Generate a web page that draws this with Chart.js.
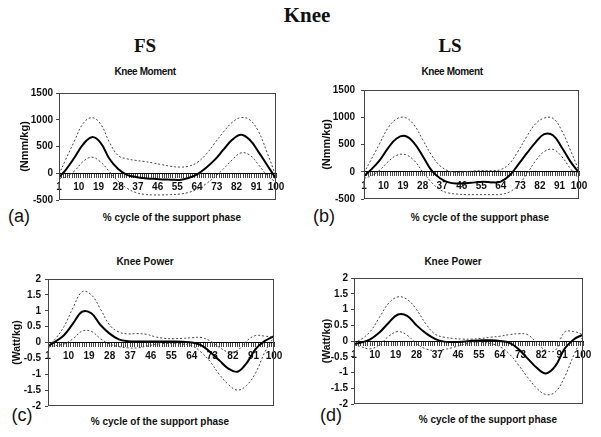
<!DOCTYPE html>
<html><head><meta charset="utf-8">
<script src="https://cdn.jsdelivr.net/npm/chart.js@4"></script>
<style>
html,body{margin:0;padding:0;background:#fff;}
#wrap{position:relative;width:601px;height:437px;overflow:hidden;background:#fff;}
canvas{position:absolute;left:0;top:0;}
.t{position:absolute;transform:translate(-50%,-50%);white-space:nowrap;color:#111;line-height:1;}
.serif{font-family:'Liberation Serif','Times New Roman',serif;font-weight:bold;}
.sans{font-family:'Liberation Sans',Arial,sans-serif;font-weight:bold;}
.lab{font-family:'Liberation Sans',Arial,sans-serif;font-weight:normal;font-size:18px;}
</style></head><body>
<div id="wrap">
  <div class="t serif" style="left:307px;top:15px;font-size:21px;">Knee</div>
  <div class="t serif" style="left:145px;top:45px;font-size:19px;">FS</div>
  <div class="t serif" style="left:450px;top:45px;font-size:19px;">LS</div>
  <div class="t sans" style="left:145px;top:72px;font-size:10px;letter-spacing:-0.4px;">Knee Moment</div>
  <div class="t sans" style="left:452px;top:72px;font-size:10px;letter-spacing:-0.4px;">Knee Moment</div>
  <div class="t sans" style="left:145px;top:262px;font-size:10px;">Knee Power</div>
  <div class="t sans" style="left:453px;top:262px;font-size:10px;">Knee Power</div>
  <div class="t sans" style="left:172px;top:218px;font-size:10px;">% cycle of the support phase</div>
  <div class="t sans" style="left:480px;top:218px;font-size:10px;">% cycle of the support phase</div>
  <div class="t sans" style="left:160px;top:422px;font-size:10px;">% cycle of the support phase</div>
  <div class="t sans" style="left:488px;top:420px;font-size:10px;">% cycle of the support phase</div>
  <div class="t lab" style="left:19px;top:216px;">(a)</div>
  <div class="t lab" style="left:324px;top:216px;">(b)</div>
  <div class="t lab" style="left:22px;top:415px;">(c)</div>
  <div class="t lab" style="left:331px;top:415px;">(d)</div>
  <canvas id="ca" width="601" height="437"></canvas>
  <canvas id="cb" width="601" height="437"></canvas>
  <canvas id="cc" width="601" height="437"></canvas>
  <canvas id="cd" width="601" height="437"></canvas>
</div>
<script>
// % cycle of the support phase (sample positions)
const percentCycle = [1,4,8,12,16,20,24,28,32,36,40,44,48,52,56,60,64,68,72,76,80,84,88,92,96,100];
const xTickLabels = [1,10,19,28,37,46,55,64,73,82,91,100];

// (a) Knee Moment, FS (Nmm/kg)
const momentFS_mean  = [-75,60,290,540,675,570,270,80,-30,-70,-95,-105,-115,-120,-125,-90,-20,100,250,440,625,720,625,400,150,-100];
const momentFS_upper = [-20,250,600,930,1040,920,580,330,270,240,220,190,160,130,115,130,200,350,560,770,950,1040,1000,780,380,-60];
const momentFS_lower = [-100,-70,40,220,300,210,30,-150,-280,-360,-395,-405,-405,-400,-390,-360,-300,-200,-70,80,250,380,340,160,-40,-170];

// (b) Knee Moment, LS (Nmm/kg)
const momentLS_mean  = [-80,30,200,430,610,655,530,290,30,-120,-195,-215,-210,-195,-185,-195,-180,-70,130,340,540,690,670,450,190,-20];
const momentLS_upper = [-20,200,500,800,970,995,860,590,310,110,15,-10,0,15,20,20,40,150,380,650,880,985,980,760,400,20];
const momentLS_lower = [-120,-80,20,180,300,315,210,0,-190,-330,-390,-410,-420,-420,-420,-420,-415,-370,-250,-40,200,370,410,280,60,-130];

// (c) Knee Power, FS (Watt/kg)
const powerFS_mean  = [-0.12,0.02,0.23,0.6,0.97,0.92,0.55,0.28,0.1,0.04,0.03,0.03,0.03,0.03,0.03,0.02,0.0,-0.08,-0.3,-0.56,-0.82,-0.92,-0.65,-0.2,0.05,0.2];
const powerFS_upper = [-0.1,0.1,0.5,1.1,1.6,1.5,1.05,0.55,0.33,0.27,0.28,0.26,0.18,0.13,0.12,0.13,0.15,0.16,0.05,-0.15,-0.3,-0.25,0.05,0.22,0.2,0.17];
const powerFS_lower = [-0.15,-0.1,-0.05,0.12,0.36,0.35,0.12,-0.05,-0.13,-0.17,-0.17,-0.12,-0.06,-0.03,-0.03,-0.05,-0.1,-0.3,-0.6,-1.0,-1.32,-1.5,-1.35,-0.95,-0.3,0.18];

// (d) Knee Power, LS (Watt/kg)
const powerLS_mean  = [-0.1,-0.05,0.05,0.27,0.58,0.84,0.8,0.5,0.25,0.07,-0.02,-0.03,-0.02,0.01,0.02,0.02,0.0,-0.05,-0.25,-0.55,-0.85,-1.03,-0.8,-0.25,0.05,0.2];
const powerLS_upper = [-0.05,0.05,0.3,0.75,1.2,1.4,1.32,1.0,0.55,0.22,0.12,0.08,0.06,0.06,0.08,0.12,0.15,0.2,0.23,0.2,-0.05,-0.3,-0.3,0.28,0.3,0.2];
const powerLS_lower = [-0.12,-0.18,-0.25,-0.12,0.15,0.3,0.18,-0.08,-0.25,-0.3,-0.27,-0.2,-0.12,-0.05,-0.04,-0.08,-0.18,-0.4,-0.75,-1.15,-1.5,-1.7,-1.62,-1.15,-0.45,0.15];

const FONT = "'Liberation Sans', Arial, sans-serif";
Chart.defaults.font.family = FONT;

const framePlugin = {
  id: 'frame',
  afterDatasetsDraw(chart) {
    const {ctx, chartArea: a} = chart;
    ctx.save();
    ctx.strokeStyle = '#444';
    ctx.lineWidth = 1;
    ctx.strokeRect(Math.round(a.left) + 0.5, Math.round(a.top) + 0.5,
                   Math.round(a.right - a.left) - 1, Math.round(a.bottom - a.top) - 1);
    ctx.restore();
  }
};

function pts(arr) { return arr.map((y, i) => ({x: percentCycle[i], y})); }

function makeChart(id, box, yr, title, mean, upper, lower) {
  new Chart(document.getElementById(id), {
    type: 'line',
    data: {
      datasets: [
        {data: pts(upper), borderColor: '#444', borderWidth: 1, borderDash: [2, 2]},
        {data: pts(lower), borderColor: '#444', borderWidth: 1, borderDash: [2, 2]},
        {data: pts(mean), borderColor: '#000', borderWidth: 2}
      ]
    },
    options: {
      responsive: false, animation: false, events: [], devicePixelRatio: 1,
      layout: {padding: {left: box.axisLeft, top: box.top, right: 601 - box.right, bottom: 437 - box.bottom}},
      plugins: {legend: {display: false}, tooltip: {enabled: false}, title: {display: false}},
      elements: {point: {radius: 0}, line: {tension: 0.4, fill: false}},
      scales: {
        x: {
          type: 'linear', position: {y: 0}, min: 1, max: 100,
          ticks: {stepSize: 1, maxTicksLimit: 1000, autoSkip: false, maxRotation: 0, minRotation: 0,
                  padding: 4, color: '#111', font: {size: 10, weight: 'bold'},
                  callback: v => xTickLabels.includes(v) ? String(v) : ''},
          grid: {drawOnChartArea: false, drawTicks: true, tickLength: 4, color: '#444', lineWidth: 1},
          border: {display: true, color: '#000', width: 1}
        },
        y: {
          min: yr.min, max: yr.max,
          ticks: {stepSize: yr.step, autoSkip: false, padding: box.tickPad, color: '#111',
                  font: {size: 10, weight: 'bold'}, callback: v => String(v)},
          grid: {drawOnChartArea: false, drawTicks: true, tickLength: 3, color: '#444'},
          border: {display: false},
          title: {display: true, text: title, color: '#111', padding: 0, font: {size: box.titleSize, weight: 'bold'}},
          afterFit: s => { s.width = box.left - box.axisLeft; }
        }
      }
    },
    plugins: [framePlugin]
  });
}

const momentRange = {min: -500, max: 1500, step: 500};
const powerRange = {min: -2, max: 2, step: 0.5};

makeChart('ca', {axisLeft: 18, left: 59, right: 276, top: 93, bottom: 200, tickPad: 3, titleSize: 11},
  momentRange, '(Nmm/kg)', momentFS_mean, momentFS_upper, momentFS_lower);
makeChart('cb', {axisLeft: 320, left: 364, right: 579, top: 90, bottom: 199, tickPad: 6, titleSize: 11},
  momentRange, '(Nmm/kg)', momentLS_mean, momentLS_upper, momentLS_lower);
makeChart('cc', {axisLeft: 11, left: 48, right: 274, top: 279, bottom: 406, tickPad: 4, titleSize: 10.5},
  powerRange, '(Watt/kg)', powerFS_mean, powerFS_upper, powerFS_lower);
makeChart('cd', {axisLeft: 321, left: 354, right: 583, top: 278, bottom: 404, tickPad: 3, titleSize: 10.5},
  powerRange, '(Watt/kg)', powerLS_mean, powerLS_upper, powerLS_lower);
</script>
</body></html>
